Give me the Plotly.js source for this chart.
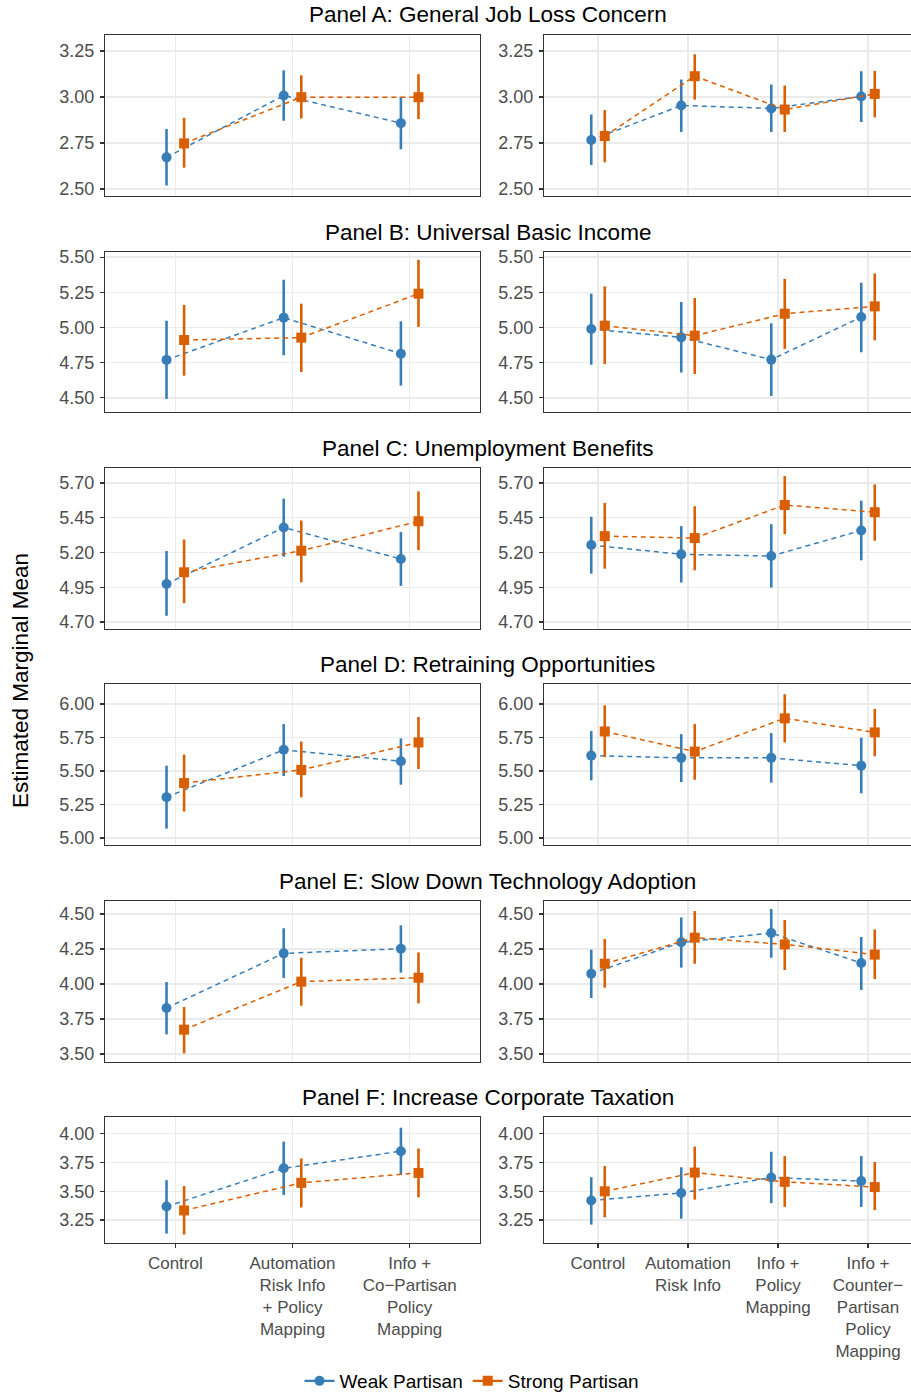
<!DOCTYPE html>
<html>
<head>
<meta charset="utf-8">
<script src="https://cdn.plot.ly/plotly-3.0.1.min.js"></script>
<style>html,body{margin:0;padding:0;background:#fff;}#chart{width:911px;height:1395px;}</style>
</head>
<body>
<div id="chart"></div>
<script>
// ---------------- DATA ----------------
const catsLeft = ['Control', 'Automation<br>Risk Info<br>+ Policy<br>Mapping', 'Info +<br>Co\u2212Partisan<br>Policy<br>Mapping'];
const catsRight = ['Control', 'Automation<br>Risk Info', 'Info +<br>Policy<br>Mapping', 'Info +<br>Counter\u2212<br>Partisan<br>Policy<br>Mapping'];
const panelTitles = ['Panel A: General Job Loss Concern', 'Panel B: Universal Basic Income', 'Panel C: Unemployment Benefits',
  'Panel D: Retraining Opportunities', 'Panel E: Slow Down Technology Adoption', 'Panel F: Increase Corporate Taxation'];
const seriesNames = ['Weak Partisan', 'Strong Partisan'];
const yTickVals = [
  [2.50, 2.75, 3.00, 3.25],
  [4.50, 4.75, 5.00, 5.25, 5.50],
  [4.70, 4.95, 5.20, 5.45, 5.70],
  [5.00, 5.25, 5.50, 5.75, 6.00],
  [3.50, 3.75, 4.00, 4.25, 4.50],
  [3.25, 3.50, 3.75, 4.00]
];

// Panel A
const A_L_weak_mean = [2.672, 3.008, 2.858], A_L_weak_lo = [2.519, 2.871, 2.716], A_L_weak_hi = [2.826, 3.145, 3.001];
const A_L_strong_mean = [2.748, 2.999, 2.999], A_L_strong_lo = [2.616, 2.883, 2.880], A_L_strong_hi = [2.887, 3.118, 3.124];
const A_R_weak_mean = [2.766, 2.954, 2.938, 3.003], A_R_weak_lo = [2.631, 2.810, 2.810, 2.864], A_R_weak_hi = [2.905, 3.095, 3.068, 3.140];
const A_R_strong_mean = [2.788, 3.113, 2.932, 3.017], A_R_strong_lo = [2.645, 2.986, 2.810, 2.889], A_R_strong_hi = [2.929, 3.232, 3.062, 3.142];
// Panel B
const B_L_weak_mean = [4.770, 5.070, 4.814], B_L_weak_lo = [4.493, 4.803, 4.588], B_L_weak_hi = [5.048, 5.339, 5.044];
const B_L_strong_mean = [4.911, 4.928, 5.240], B_L_strong_lo = [4.658, 4.684, 5.004], B_L_strong_hi = [5.160, 5.169, 5.481];
const B_R_weak_mean = [4.989, 4.930, 4.772, 5.074], B_R_weak_lo = [4.736, 4.680, 4.514, 4.824], B_R_weak_hi = [5.240, 5.181, 5.030, 5.318];
const B_R_strong_mean = [5.013, 4.942, 5.098, 5.150], B_R_strong_lo = [4.741, 4.670, 4.848, 4.909], B_R_strong_hi = [5.292, 5.209, 5.346, 5.384];
// Panel C
const C_L_weak_mean = [4.974, 5.380, 5.153], C_L_weak_lo = [4.745, 5.170, 4.960], C_L_weak_hi = [5.211, 5.588, 5.347];
const C_L_strong_mean = [5.058, 5.213, 5.425], C_L_strong_lo = [4.836, 4.986, 5.218], C_L_strong_hi = [5.294, 5.430, 5.640];
const C_R_weak_mean = [5.254, 5.187, 5.175, 5.359], C_R_weak_lo = [5.048, 4.984, 4.948, 5.144], C_R_weak_hi = [5.457, 5.390, 5.404, 5.573];
const C_R_strong_mean = [5.318, 5.304, 5.542, 5.490], C_R_strong_lo = [5.084, 5.072, 5.332, 5.285], C_R_strong_hi = [5.557, 5.533, 5.750, 5.690];
// Panel D
const D_L_weak_mean = [5.305, 5.658, 5.573], D_L_weak_lo = [5.070, 5.463, 5.398], D_L_weak_hi = [5.540, 5.850, 5.743];
const D_L_strong_mean = [5.410, 5.508, 5.713], D_L_strong_lo = [5.198, 5.303, 5.515], D_L_strong_hi = [5.623, 5.720, 5.903];
const D_R_weak_mean = [5.615, 5.598, 5.598, 5.540], D_R_weak_lo = [5.430, 5.418, 5.413, 5.333], D_R_weak_hi = [5.798, 5.775, 5.783, 5.748];
const D_R_strong_mean = [5.795, 5.645, 5.893, 5.788], D_R_strong_lo = [5.603, 5.435, 5.713, 5.610], D_R_strong_hi = [5.990, 5.850, 6.073, 5.963];
// Panel E
const E_L_weak_mean = [3.829, 4.219, 4.252], E_L_weak_lo = [3.640, 4.043, 4.081], E_L_weak_hi = [4.014, 4.398, 4.419];
const E_L_strong_mean = [3.674, 4.017, 4.045], E_L_strong_lo = [3.505, 3.845, 3.862], E_L_strong_hi = [3.836, 4.188, 4.226];
const E_R_weak_mean = [4.074, 4.298, 4.364, 4.150], E_R_weak_lo = [3.900, 4.117, 4.188, 3.957], E_R_weak_hi = [4.245, 4.476, 4.536, 4.336];
const E_R_strong_mean = [4.145, 4.331, 4.283, 4.210], E_R_strong_lo = [3.974, 4.145, 4.100, 4.036], E_R_strong_hi = [4.321, 4.521, 4.457, 4.390];
// Panel F
const F_L_weak_mean = [3.367, 3.699, 3.848], F_L_weak_lo = [3.132, 3.467, 3.642], F_L_weak_hi = [3.596, 3.931, 4.052];
const F_L_strong_mean = [3.333, 3.573, 3.659], F_L_strong_lo = [3.124, 3.359, 3.447], F_L_strong_hi = [3.545, 3.785, 3.871];
const F_R_weak_mean = [3.419, 3.485, 3.619, 3.588], F_R_weak_lo = [3.210, 3.261, 3.396, 3.364], F_R_weak_hi = [3.622, 3.708, 3.843, 3.805];
const F_R_strong_mean = [3.499, 3.662, 3.582, 3.536], F_R_strong_lo = [3.273, 3.427, 3.364, 3.336], F_R_strong_hi = [3.719, 3.888, 3.805, 3.754];

// ---------------- LAYOUT HELPERS ----------------
const W = 911, H = 1395;
const FONT = 'Liberation Sans, Arial, Helvetica, sans-serif';
const colors = ['#377EB8', '#D95F02'];
const symbols = ['circle', 'square'];
const dodge = [-0.075, 0.075];
const panelPx = [[35, 196], [252, 412], [468, 629], [684, 845], [901, 1062], [1117, 1243]];
const titlePx = [15, 232, 448, 664, 881, 1097];
const yRanges = [[2.462, 3.337], [4.40, 5.536], [4.65, 5.808], [4.948, 6.149], [3.443, 4.593], [3.05, 4.145]];
const leftDom = [105 / W, 480 / W];
const rightDom = [544 / W, 1];
const rightXMax = 0.4 + (W - 544) / 90;

const panelData = [
  { L: [[A_L_weak_mean, A_L_weak_lo, A_L_weak_hi], [A_L_strong_mean, A_L_strong_lo, A_L_strong_hi]],
    R: [[A_R_weak_mean, A_R_weak_lo, A_R_weak_hi], [A_R_strong_mean, A_R_strong_lo, A_R_strong_hi]] },
  { L: [[B_L_weak_mean, B_L_weak_lo, B_L_weak_hi], [B_L_strong_mean, B_L_strong_lo, B_L_strong_hi]],
    R: [[B_R_weak_mean, B_R_weak_lo, B_R_weak_hi], [B_R_strong_mean, B_R_strong_lo, B_R_strong_hi]] },
  { L: [[C_L_weak_mean, C_L_weak_lo, C_L_weak_hi], [C_L_strong_mean, C_L_strong_lo, C_L_strong_hi]],
    R: [[C_R_weak_mean, C_R_weak_lo, C_R_weak_hi], [C_R_strong_mean, C_R_strong_lo, C_R_strong_hi]] },
  { L: [[D_L_weak_mean, D_L_weak_lo, D_L_weak_hi], [D_L_strong_mean, D_L_strong_lo, D_L_strong_hi]],
    R: [[D_R_weak_mean, D_R_weak_lo, D_R_weak_hi], [D_R_strong_mean, D_R_strong_lo, D_R_strong_hi]] },
  { L: [[E_L_weak_mean, E_L_weak_lo, E_L_weak_hi], [E_L_strong_mean, E_L_strong_lo, E_L_strong_hi]],
    R: [[E_R_weak_mean, E_R_weak_lo, E_R_weak_hi], [E_R_strong_mean, E_R_strong_lo, E_R_strong_hi]] },
  { L: [[F_L_weak_mean, F_L_weak_lo, F_L_weak_hi], [F_L_strong_mean, F_L_strong_lo, F_L_strong_hi]],
    R: [[F_R_weak_mean, F_R_weak_lo, F_R_weak_hi], [F_R_strong_mean, F_R_strong_lo, F_R_strong_hi]] }
];

const traces = [];
const layout = {
  width: W, height: H,
  margin: { l: 0, r: 0, t: 0, b: 0, autoexpand: false },
  paper_bgcolor: '#ffffff', plot_bgcolor: '#ffffff',
  font: { family: FONT, color: '#000000' },
  showlegend: true,
  legend: {
    orientation: 'h', xref: 'container', yref: 'container',
    x: 472 / W, xanchor: 'center', y: 1 - 1381 / H, yanchor: 'middle',
    font: { family: FONT, size: 19, color: '#000000' }, itemwidth: 30, tracegroupgap: 0,
    bgcolor: 'rgba(0,0,0,0)'
  },
  annotations: [],
  shapes: []
};

const axisCommon = {
  showgrid: true, gridcolor: '#EBEBEB', gridwidth: 1.3, zeroline: false,
  showline: true, linecolor: '#333333', linewidth: 1.1,
  tickfont: { family: FONT, size: 18, color: '#4D4D4D' },
  ticks: 'outside', ticklen: 4, tickcolor: '#333333', tickwidth: 1.1
};

panelData.forEach((pd, i) => {
  const isBottom = i === panelPx.length - 1;
  const yDom = [1 - panelPx[i][1] / H, 1 - panelPx[i][0] / H];
  ['L', 'R'].forEach((side, s) => {
    const idx = 2 * i + s + 1;
    const xName = idx === 1 ? 'xaxis' : 'xaxis' + idx;
    const yName = idx === 1 ? 'yaxis' : 'yaxis' + idx;
    const cats = side === 'L' ? catsLeft : catsRight;
    const tickv = cats.map((c, k) => k + 1);
    layout[xName] = Object.assign({}, axisCommon, {
      domain: side === 'L' ? leftDom : rightDom,
      anchor: 'y' + idx,
      range: side === 'L' ? [0.4, cats.length + 0.6] : [0.4, rightXMax],
      tickmode: 'array', tickvals: tickv, ticktext: isBottom ? cats : cats.map(() => ''),
      tickfont: { family: FONT, size: 17, color: '#4D4D4D' },
      ticks: isBottom ? 'outside' : '', mirror: true, fixedrange: true, automargin: false
    });
    layout[yName] = Object.assign({}, axisCommon, {
      domain: yDom,
      anchor: 'x' + idx,
      range: yRanges[i],
      tickmode: 'array', tickvals: yTickVals[i], ticktext: yTickVals[i].map(v => v.toFixed(2)),
      ticklabelstandoff: 2,
      mirror: side === 'L', fixedrange: true, automargin: false
    });
    pd[side].forEach((ser, k) => {
      const [mean, lo, hi] = ser;
      traces.push({
        type: 'scatter', mode: 'lines+markers',
        name: seriesNames[k], legendgroup: seriesNames[k],
        showlegend: false,
        x: mean.map((v, j) => j + 1 + dodge[k]),
        y: mean,
        xaxis: 'x' + idx, yaxis: 'y' + idx,
        line: { color: colors[k], width: 1.5, dash: '5px,4px' },
        marker: { color: colors[k], symbol: symbols[k], size: 10, line: { width: 0 } },
        error_y: {
          type: 'data', symmetric: false,
          array: hi.map((h, j) => h - mean[j]),
          arrayminus: lo.map((l, j) => mean[j] - l),
          width: 0, thickness: 2.6, color: colors[k]
        },
        cliponaxis: false
      });
    });
  });
  layout.annotations.push({
    text: panelTitles[i], xref: 'paper', yref: 'paper',
    x: 488 / W, y: 1 - titlePx[i] / H, xanchor: 'center', yanchor: 'middle',
    showarrow: false, font: { family: FONT, size: 22.5, color: '#000000' }
  });
});

// legend keys (solid line + marker, as in the reference legend)
seriesNames.forEach((nm, k) => {
  traces.push({
    type: 'scatter', mode: 'lines+markers', name: nm, legendgroup: nm, showlegend: true,
    x: [null], y: [null], xaxis: 'x', yaxis: 'y',
    line: { color: colors[k], width: 2.2 },
    marker: { color: colors[k], symbol: symbols[k], size: 10, line: { width: 0 } }
  });
});

layout.annotations.push({
  text: 'Estimated Marginal Mean', xref: 'paper', yref: 'paper',
  x: 20 / W, y: 1 - 681 / H, xanchor: 'center', yanchor: 'middle', textangle: -90,
  showarrow: false, font: { family: FONT, size: 22.5, color: '#000000' }
});

Plotly.newPlot('chart', traces, layout, { staticPlot: true, displayModeBar: false });
</script>
</body>
</html>
